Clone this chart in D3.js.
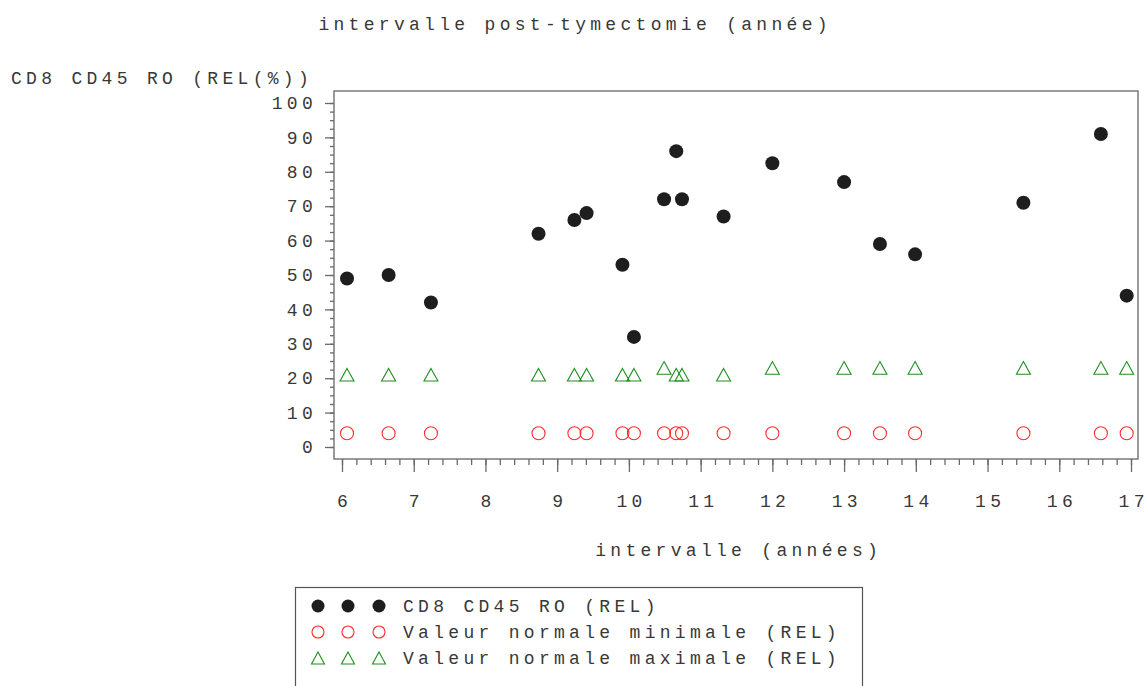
<!DOCTYPE html>
<html>
<head>
<meta charset="utf-8">
<script src="https://cdn.jsdelivr.net/npm/d3@7"></script>
<style>
  body { margin: 0; background: #fff; }
  text { font-family: "Liberation Mono", "DejaVu Sans Mono", monospace; font-size: 18px; fill: #383838; letter-spacing: 4.3px; }
</style>
</head>
<body>
<script>
// values
var years = [6.07, 6.65, 7.24, 8.74, 9.24, 9.41, 9.91, 10.07, 10.49, 10.66, 10.74, 11.32, 12.0, 13.0, 13.5, 13.99, 15.5, 16.58, 16.94];
var cd8 = [49, 50, 42, 62, 66, 68, 53, 32, 72, 86, 72, 67, 82.5, 77, 59, 56, 71, 91, 44];
var minNormal = [4, 4, 4, 4, 4, 4, 4, 4, 4, 4, 4, 4, 4, 4, 4, 4, 4, 4, 4];
var maxNormal = [21, 21, 21, 21, 21, 21, 21, 21, 23, 21, 21, 21, 23, 23, 23, 23, 23, 23, 23];
var xTicks = [6, 7, 8, 9, 10, 11, 12, 13, 14, 15, 16, 17];
var yTicks = [0, 10, 20, 30, 40, 50, 60, 70, 80, 90, 100];
var legendLabels = ["CD8 CD45 RO (REL)", "Valeur normale minimale (REL)", "Valeur normale maximale (REL)"];

var width = 1146, height = 686;
var frame = {left: 334, top: 91, right: 1138, bottom: 459};
var ls = 4.3;

var x = d3.scaleLinear().domain([6, 17]).range([342, 1131]);
var y = d3.scaleLinear().domain([0, 100]).range([447, 103]);

var svg = d3.select('body').append('svg')
    .attr('width', width)
    .attr('height', height);

// titles
svg.append('text').attr('x', width / 2 + ls / 2).attr('y', 30)
    .attr('text-anchor', 'middle').text('intervalle post-tymectomie (année)');
svg.append('text').attr('x', 11).attr('y', 84).text('CD8 CD45 RO (REL(%))');
svg.append('text').attr('x', (x(6) + x(17)) / 2 + ls / 2).attr('y', 556)
    .attr('text-anchor', 'middle').text('intervalle (années)');

// frame
svg.append('rect')
    .attr('x', frame.left).attr('y', frame.top)
    .attr('width', frame.right - frame.left).attr('height', frame.bottom - frame.top)
    .attr('fill', 'none').attr('stroke', '#7a7a7a').attr('stroke-width', 1.5);

// x axis
svg.append('g').attr('transform', 'translate(0,' + frame.bottom + ')')
    .call(d3.axisBottom(x).tickValues(d3.range(6, 17.01, 0.2)).tickSize(6).tickFormat(''));
var xMajor = svg.append('g').attr('transform', 'translate(0,' + frame.bottom + ')')
    .call(d3.axisBottom(x).tickValues(xTicks).tickSize(13).tickPadding(22).tickFormat(d3.format('d')));
// spread the digits without trailing spacing
xMajor.selectAll('.tick text').each(function(d) {
  var t = d3.select(this), s = String(d);
  t.text(null).style('letter-spacing', '0px');
  s.split('').forEach(function(c, i) {
    t.append('tspan').attr('dx', i ? ls : 0).text(c);
  });
});

// y axis
svg.append('g').attr('transform', 'translate(' + frame.left + ',0)')
    .call(d3.axisLeft(y).tickValues(d3.range(0, 100.01, 2.5)).tickSize(4).tickFormat(''));
svg.append('g').attr('transform', 'translate(' + frame.left + ',0)')
    .call(d3.axisLeft(y).tickValues(yTicks).tickSize(9).tickPadding(8));

svg.selectAll('.domain').remove();
svg.selectAll('.tick line').attr('stroke', '#6a6a6a').attr('stroke-width', 1.3);
svg.selectAll('.tick text').style('font-family', '"Liberation Mono", "DejaVu Sans Mono", monospace')
    .style('font-size', '18px').attr('fill', '#383838');

function triangle(cx, cy, w, h) {
  return 'M' + cx + ',' + (cy - h / 2) + 'L' + (cx + w / 2) + ',' + (cy + h / 2) + 'L' + (cx - w / 2) + ',' + (cy + h / 2) + 'Z';
}

// points
svg.append('g').selectAll('path').data(years).enter().append('path')
    .attr('d', function(d, i) { return triangle(x(d), y(maxNormal[i]), 14, 12.6); })
    .attr('fill', 'none').attr('stroke', '#1f8f1f').attr('stroke-width', 1.1);

svg.append('g').selectAll('circle').data(years).enter().append('circle')
    .attr('cx', function(d) { return x(d); })
    .attr('cy', function(d, i) { return y(minNormal[i]); })
    .attr('r', 6.5)
    .attr('fill', 'none').attr('stroke', '#ff2a2a').attr('stroke-width', 1.1);

svg.append('g').selectAll('circle').data(years).enter().append('circle')
    .attr('cx', function(d) { return x(d); })
    .attr('cy', function(d, i) { return y(cd8[i]); })
    .attr('r', 7)
    .attr('fill', '#1e1e1e');

// legend
var legend = svg.append('g');
legend.append('rect').attr('x', 295.5).attr('y', 587.5).attr('width', 567).attr('height', 120)
    .attr('fill', 'none').attr('stroke', '#555').attr('stroke-width', 1.2);
var rowY = [606, 632, 658];
var symX = [318, 348, 379];
legendLabels.forEach(function(lab, i) {
  symX.forEach(function(sx) {
    if (i === 0) {
      legend.append('circle').attr('cx', sx).attr('cy', rowY[i]).attr('r', 6.5).attr('fill', '#1e1e1e');
    } else if (i === 1) {
      legend.append('circle').attr('cx', sx).attr('cy', rowY[i]).attr('r', 6)
          .attr('fill', 'none').attr('stroke', '#ff2a2a').attr('stroke-width', 1.1);
    } else {
      legend.append('path').attr('d', triangle(sx, rowY[i], 13, 12))
          .attr('fill', 'none').attr('stroke', '#1f8f1f').attr('stroke-width', 1.1);
    }
  });
  legend.append('text').attr('x', 403).attr('y', rowY[i] + 6).text(lab);
});
</script>
</body>
</html>
